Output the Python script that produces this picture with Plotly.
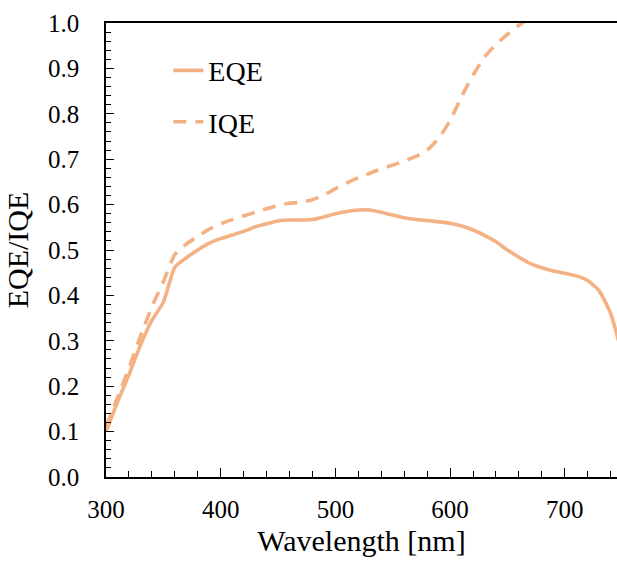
import plotly.graph_objects as go

# Wavelength grid (nm)
wavelength = [300, 310, 320, 330, 340, 350, 360, 370, 380, 390,
              400, 410, 420, 430, 440, 450, 460, 470, 480, 490,
              500, 510, 520, 530, 540, 550, 560, 570, 580, 590,
              600, 610, 620, 630, 640, 650, 660, 670, 680, 690,
              700, 710, 720, 730, 740, 750]

# External quantum efficiency
eqe = [0.100, 0.165, 0.225, 0.290, 0.345, 0.385, 0.462, 0.483, 0.500, 0.515,
       0.525, 0.533, 0.541, 0.551, 0.558, 0.564, 0.566, 0.566, 0.567, 0.573,
       0.580, 0.585, 0.588, 0.588, 0.583, 0.577, 0.571, 0.567, 0.565, 0.562,
       0.559, 0.553, 0.544, 0.532, 0.518, 0.500, 0.484, 0.470, 0.461, 0.454,
       0.449, 0.443, 0.433, 0.410, 0.360, 0.270]

# Internal quantum efficiency (runs off the top of the axis above ~660 nm)
iqe_wavelength = [300, 310, 320, 330, 340, 350, 360, 370, 380, 390,
                  400, 410, 420, 430, 440, 450, 460, 470, 480, 490,
                  500, 510, 520, 530, 540, 550, 560, 570, 580, 590,
                  600, 610, 620, 630, 640, 650, 660, 670, 680]
iqe = [0.110, 0.175, 0.240, 0.310, 0.375, 0.430, 0.490, 0.513, 0.530, 0.546,
       0.558, 0.567, 0.575, 0.583, 0.591, 0.598, 0.603, 0.605, 0.611, 0.621,
       0.635, 0.648, 0.659, 0.669, 0.679, 0.687, 0.696, 0.706, 0.720, 0.746,
       0.785, 0.838, 0.885, 0.925, 0.953, 0.975, 0.995, 1.012, 1.028]

x_ticks = [300, 400, 500, 600, 700]
y_ticks = [0.0, 0.1, 0.2, 0.3, 0.4, 0.5, 0.6, 0.7, 0.8, 0.9, 1.0]

LINE_COLOR = "#F4B183"
FONT = "Liberation Serif"

fig = go.Figure()
fig.add_trace(go.Scatter(
    x=wavelength, y=eqe, mode="lines", name="EQE", legendgroup="eqe",
    line=dict(color=LINE_COLOR, width=3.6, shape="spline", smoothing=0.5),
))
fig.add_trace(go.Scatter(
    x=iqe_wavelength, y=iqe, mode="lines", name="IQE", legendgroup="iqe",
    line=dict(color=LINE_COLOR, width=3.6, dash="13px,9px",
              shape="spline", smoothing=0.5),
))

fig.update_layout(
    width=617, height=561,
    margin=dict(l=106, r=0, t=23, b=84),
    paper_bgcolor="white", plot_bgcolor="white",
    font=dict(family=FONT, color="black", size=25),
    showlegend=True,
    legend=dict(
        x=0.122, y=0.95, xanchor="left", yanchor="top",
        bgcolor="rgba(0,0,0,0)", font=dict(size=28, family=FONT, color="black"),
        tracegroupgap=12, itemwidth=30,
    ),
)

fig.update_xaxes(
    range=[300, 745.5], tickvals=x_ticks,
    ticks="inside", ticklen=9, tickwidth=1.2, tickcolor="black",
    minor=dict(dtick=20, ticks="inside", ticklen=6, tickwidth=1.2, tickcolor="black"),
    showline=True, linecolor="black", linewidth=1.6, mirror=True,
    showgrid=False, zeroline=False,
    tickfont=dict(size=25, family=FONT, color="black"),
    ticklabelstandoff=9,
    title=dict(text="Wavelength [nm]", font=dict(size=30, family=FONT, color="black"), standoff=8),
)
fig.update_yaxes(
    range=[0, 1.0], tickvals=y_ticks, tickformat=".1f",
    ticks="inside", ticklen=8, tickwidth=1.2, tickcolor="black",
    minor=dict(dtick=0.02, ticks="inside", ticklen=5, tickwidth=1.2, tickcolor="black"),
    showline=True, linecolor="black", linewidth=1.6, mirror=False,
    showgrid=False, zeroline=False,
    tickfont=dict(size=25, family=FONT, color="black"),
    ticklabelstandoff=20,
    title=dict(text="EQE/IQE", font=dict(size=30, family=FONT, color="black"), standoff=10),
)

fig.write_html("out.html")
